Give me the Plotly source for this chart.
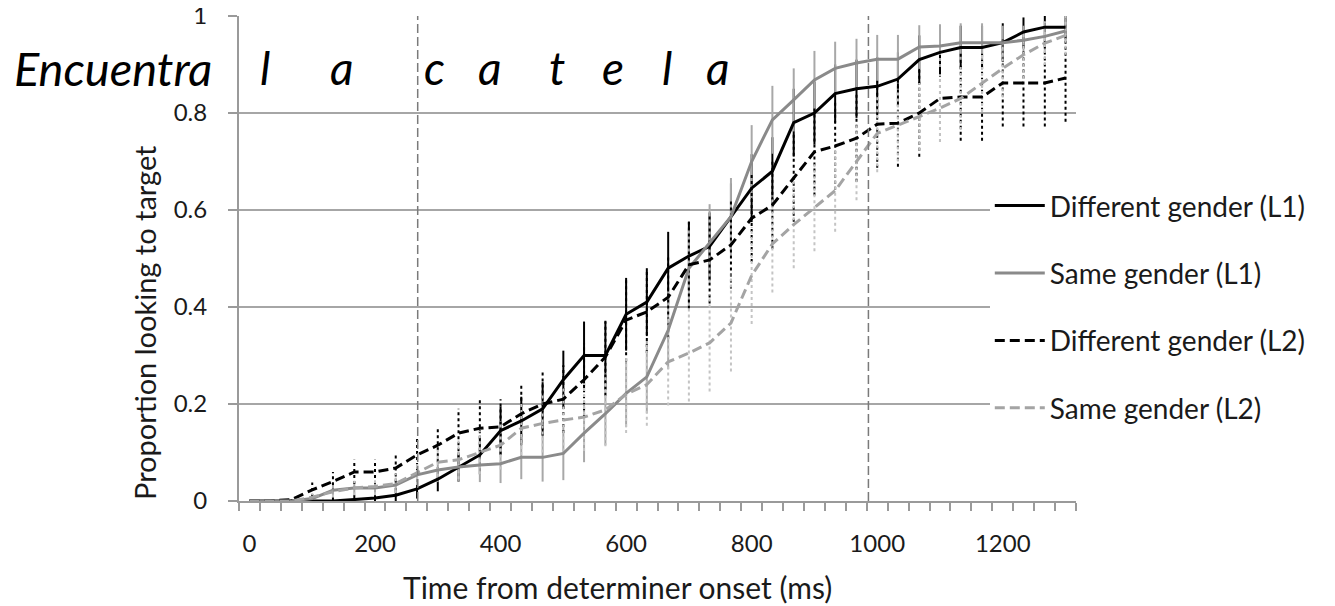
import plotly.graph_objects as go

### Eye-tracking curves: proportion of looks to target over time ###

# time bins (ms from determiner onset)
time_ms = [0, 33, 67, 100, 133, 167, 200, 233, 267, 300, 333, 367, 400, 433, 467, 500,
           533, 567, 600, 633, 667, 700, 733, 767, 800, 833, 867, 900, 933, 967, 1000,
           1033, 1067, 1100, 1133, 1167, 1200, 1233, 1267, 1300]

# Different gender (L1)
diff_l1 = [0, 0, 0, 0, 0, 0.003, 0.006, 0.012, 0.025, 0.045, 0.07, 0.095, 0.145, 0.165,
           0.19, 0.25, 0.30, 0.30, 0.385, 0.41, 0.48, 0.505, 0.525, 0.585, 0.645, 0.68,
           0.78, 0.80, 0.84, 0.85, 0.855, 0.87, 0.91, 0.925, 0.935, 0.935, 0.945, 0.967,
           0.977, 0.977]
diff_l1_err = [0, 0, 0, 0.005, 0.008, 0.01, 0.012, 0.015, 0.02, 0.025, 0.03, 0.04, 0.05,
               0.05, 0.055, 0.06, 0.07, 0.07, 0.075, 0.07, 0.075, 0.07, 0.07, 0.07, 0.07,
               0.07, 0.07, 0.065, 0.06, 0.06, 0.06, 0.055, 0.05, 0.05, 0.045, 0.045, 0.04,
               0.03, 0.025, 0.025]

# Same gender (L1)
same_l1 = [0, 0, 0, 0.005, 0.022, 0.027, 0.027, 0.033, 0.054, 0.064, 0.07, 0.074, 0.077,
           0.09, 0.09, 0.098, 0.14, 0.18, 0.222, 0.256, 0.352, 0.48, 0.532, 0.586, 0.70,
           0.786, 0.827, 0.868, 0.892, 0.903, 0.911, 0.911, 0.936, 0.938, 0.945, 0.945,
           0.945, 0.95, 0.958, 0.969]
same_l1_err = [0, 0, 0, 0.005, 0.01, 0.012, 0.012, 0.015, 0.02, 0.025, 0.03, 0.035, 0.04,
               0.045, 0.05, 0.055, 0.06, 0.065, 0.07, 0.075, 0.08, 0.08, 0.08, 0.08, 0.075,
               0.07, 0.065, 0.06, 0.055, 0.05, 0.05, 0.05, 0.045, 0.045, 0.04, 0.04, 0.035,
               0.03, 0.03, 0.025]

# Different gender (L2)
diff_l2 = [0, 0, 0.003, 0.023, 0.04, 0.06, 0.06, 0.068, 0.095, 0.115, 0.14, 0.15, 0.153,
           0.18, 0.20, 0.21, 0.25, 0.297, 0.373, 0.39, 0.42, 0.487, 0.497, 0.528, 0.583,
           0.61, 0.666, 0.72, 0.732, 0.748, 0.777, 0.779, 0.80, 0.83, 0.833, 0.833, 0.862,
           0.862, 0.862, 0.872]
diff_l2_err = [0, 0, 0.005, 0.015, 0.02, 0.025, 0.025, 0.03, 0.035, 0.035, 0.05, 0.06,
               0.057, 0.06, 0.065, 0.07, 0.075, 0.08, 0.085, 0.085, 0.085, 0.09, 0.09, 0.09,
               0.09, 0.09, 0.09, 0.09, 0.09, 0.09, 0.09, 0.09, 0.09, 0.09, 0.09, 0.09, 0.09,
               0.09, 0.09, 0.09]

# Same gender (L2)
same_l2 = [0, 0, 0, 0.008, 0.019, 0.027, 0.03, 0.036, 0.058, 0.08, 0.085, 0.10, 0.115,
           0.15, 0.16, 0.167, 0.173, 0.188, 0.22, 0.24, 0.287, 0.305, 0.326, 0.367, 0.465,
           0.53, 0.57, 0.605, 0.64, 0.70, 0.758, 0.775, 0.792, 0.81, 0.83, 0.862, 0.892,
           0.92, 0.944, 0.96]
same_l2_err = [0, 0, 0, 0.008, 0.012, 0.015, 0.018, 0.02, 0.025, 0.03, 0.04, 0.045, 0.05,
               0.055, 0.06, 0.065, 0.07, 0.075, 0.08, 0.085, 0.09, 0.1, 0.1, 0.1, 0.1, 0.1,
               0.09, 0.09, 0.085, 0.08, 0.08, 0.075, 0.07, 0.07, 0.065, 0.06, 0.06, 0.05,
               0.045, 0.04]

x_tick_vals = [0, 200, 400, 600, 800, 1000, 1200]
y_tick_vals = [0, 0.2, 0.4, 0.6, 0.8, 1]

# sentence shown above the curves, word onsets marked by dashed lines
carrier_word = 'Encuentra'
det_letters = ['l', 'a']
noun_letters = ['c', 'a', 't', 'e', 'l', 'a']
det_onset = 268
noun_offset = 986

series = [
    ('Different gender (L1)', diff_l1, diff_l1_err, '#000000', 'solid', '#000000', 'solid'),
    ('Same gender (L1)', same_l1, same_l1_err, '#8a8a8a', 'solid', '#a8a8a8', 'solid'),
    ('Different gender (L2)', diff_l2, diff_l2_err, '#000000', '10px,5px', '#000000', 'dot'),
    ('Same gender (L2)', same_l2, same_l2_err, '#a4a4a4', '10px,5px', '#c4c4c4', 'dot'),
]

font_name = 'Lato'
txt_col = '#1a1a1a'
fig = go.Figure()

# error bars first (drawn as thin vertical segments so they can be dotted)
for name, vals, errs, col, dash, ecol, edash in series:
    ex, ey = [], []
    for t, v, e in zip(time_ms, vals, errs):
        if e <= 0:
            continue
        ex += [t, t, None]
        ey += [v - e, v + e, None]
    fig.add_trace(go.Scatter(x=ex, y=ey, mode='lines', legendgroup=name,
                             showlegend=False, hoverinfo='skip',
                             line=dict(color=ecol, width=2, dash=edash)))

for name, vals, errs, col, dash, ecol, edash in series:
    fig.add_trace(go.Scatter(x=time_ms, y=vals, mode='lines', name=name,
                             legendgroup=name,
                             line=dict(color=col, width=3, dash=dash)))

shapes = []
for xv in [det_onset, noun_offset]:
    shapes.append(dict(type='line', xref='x', yref='paper', x0=xv, x1=xv, y0=0, y1=1,
                       line=dict(color='#7a7a7a', width=1.5, dash='9px,4px')))

annotations = [
    dict(text='Proportion looking to target', xref='paper', yref='paper',
         x=-0.1135, y=0.367, xanchor='center', yanchor='middle',
         showarrow=False, textangle=-90,
         font=dict(size=29, color=txt_col, family=font_name)),
    dict(text='Time from determiner onset (ms)', xref='paper', yref='paper',
         x=0.452, y=-0.177, xanchor='center', yanchor='middle', showarrow=False,
         font=dict(size=30, color=txt_col, family=font_name)),
    dict(text='<i>' + carrier_word + '</i>', xref='paper', yref='paper',
         x=-0.03, y=0.893, xanchor='right', yanchor='middle', showarrow=False,
         font=dict(size=47, color='#000000', family=font_name)),
]
letter_pos = [24, 147, 295, 383, 490, 579, 665, 746]
for letter, xv in zip(det_letters + noun_letters, letter_pos):
    annotations.append(dict(text='<i>' + letter + '</i>', xref='x', yref='paper',
                            x=xv, y=0.893, xanchor='center', yanchor='middle',
                            showarrow=False,
                            font=dict(size=46, color='#000000', family=font_name)))

fig.update_layout(
    width=1335, height=606,
    margin=dict(l=231, r=267, t=8, b=113),
    paper_bgcolor='white', plot_bgcolor='white',
    font=dict(family=font_name, size=24, color=txt_col),
    xaxis=dict(range=[-16.667, 1316.667], tickvals=x_tick_vals, ticks='',
               showgrid=False, zeroline=False, automargin=False,
               showline=True, linecolor='#9a9a9a', linewidth=2,
               ticklabelstandoff=20,
               minor=dict(ticks='outside', tick0=-16.667, dtick=33.333, ticklen=8,
                          tickwidth=2, tickcolor='#9a9a9a', showgrid=False),
               tickfont=dict(size=24, color=txt_col)),
    yaxis=dict(range=[0, 1], tickvals=y_tick_vals, ticks='outside', ticklen=9,
               tickwidth=2, tickcolor='#9a9a9a', automargin=False,
               ticklabeloverflow='allow',
               showgrid=True, gridcolor='#a6a6a6', gridwidth=2, zeroline=False,
               showline=True, linecolor='#9a9a9a', linewidth=2,
               ticklabelstandoff=16,
               tickfont=dict(size=24, color=txt_col)),
    legend=dict(x=0.897, y=0.66, xanchor='left', yanchor='top',
                bgcolor='white', borderwidth=0, traceorder='grouped',
                tracegroupgap=28, itemwidth=50,
                font=dict(size=28, color=txt_col, family=font_name)),
    shapes=shapes,
    annotations=annotations,
    showlegend=True,
)

fig.write_html('out.html')
